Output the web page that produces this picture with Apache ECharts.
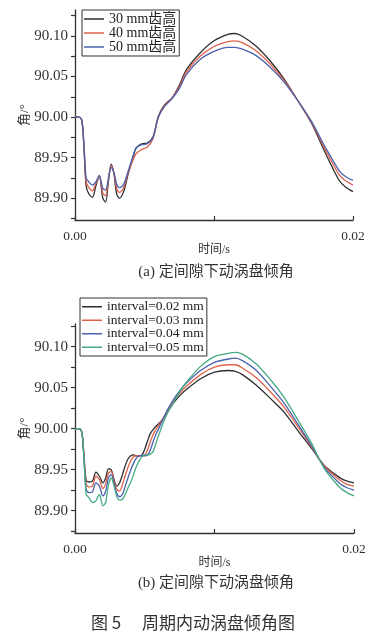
<!DOCTYPE html>
<html><head><meta charset="utf-8">
<script src="https://cdn.jsdelivr.net/npm/echarts@6/dist/echarts.min.js"></script>
<style>html,body{margin:0;padding:0;background:#fff}#c{width:390px;height:643px}</style>
</head><body><div id="c"></div>
<script>
// ---------- data ----------
const times1 = [0, 0.0003, 0.0005, 0.00065, 0.0008, 0.001, 0.00125, 0.0015, 0.00175, 0.002,
  0.0022, 0.0024, 0.0026, 0.0028, 0.003, 0.0032, 0.0035, 0.0038, 0.0041, 0.0044,
  0.0048, 0.0052, 0.0056, 0.006, 0.0064, 0.007, 0.0075, 0.008, 0.009, 0.01,
  0.011, 0.0115, 0.012, 0.013, 0.014, 0.015, 0.016, 0.017, 0.018, 0.019, 0.0195, 0.02];
const names1 = ['30 mm齿高', '40 mm齿高', '50 mm齿高'];
const h30 = [90.000, 90.000, 89.995, 89.960, 89.915, 89.905, 89.901, 89.915, 89.927, 89.900,
  89.895, 89.920, 89.942, 89.930, 89.905, 89.900, 89.908, 89.928, 89.946, 89.962,
  89.967, 89.968, 89.975, 90.001, 90.014, 90.024, 90.039, 90.058, 90.079, 90.094,
  90.102, 90.103, 90.100, 90.088, 90.070, 90.048, 90.021, 89.993, 89.956, 89.922, 89.913, 89.908];
const h40 = [90.000, 90.000, 89.995, 89.962, 89.920, 89.913, 89.909, 89.918, 89.927, 89.906,
  89.903, 89.922, 89.940, 89.931, 89.912, 89.907, 89.913, 89.930, 89.944, 89.955,
  89.960, 89.963, 89.973, 90.000, 90.013, 90.024, 90.037, 90.055, 90.075, 90.087,
  90.093, 90.094, 90.092, 90.082, 90.066, 90.046, 90.021, 89.994, 89.960, 89.929, 89.921, 89.916];
const h50 = [90.000, 90.000, 89.996, 89.965, 89.925, 89.920, 89.916, 89.920, 89.928, 89.912,
  89.910, 89.924, 89.938, 89.932, 89.917, 89.913, 89.917, 89.932, 89.948, 89.962,
  89.966, 89.967, 89.974, 90.000, 90.012, 90.023, 90.035, 90.052, 90.071, 90.081,
  90.086, 90.086, 90.084, 90.076, 90.062, 90.044, 90.021, 89.995, 89.963, 89.934, 89.926, 89.922];

const times2 = [0, 0.0003, 0.0005, 0.00065, 0.0008, 0.001, 0.00125, 0.0015, 0.00175, 0.002,
  0.0022, 0.0024, 0.0026, 0.0028, 0.003, 0.0032, 0.0034, 0.0036, 0.0038, 0.004,
  0.0042, 0.0044, 0.0046, 0.0048, 0.005, 0.0052, 0.0054, 0.0056, 0.0058, 0.006,
  0.0063, 0.0066, 0.007, 0.0075, 0.008, 0.009, 0.01, 0.011, 0.0115, 0.012,
  0.013, 0.014, 0.015, 0.016, 0.017, 0.0175, 0.018, 0.019, 0.0195, 0.02];
const names2 = ['interval=0.02 mm', 'interval=0.03 mm', 'interval=0.04 mm', 'interval=0.05 mm'];
const g02 = [90.000, 90.000, 89.995, 89.965, 89.937, 89.935, 89.936, 89.947, 89.942, 89.934,
  89.940, 89.951, 89.950, 89.938, 89.930, 89.934, 89.944, 89.955, 89.963, 89.967,
  89.968, 89.967, 89.967, 89.968, 89.975, 89.985, 89.994, 89.999, 90.003, 90.006,
  90.012, 90.020, 90.030, 90.040, 90.048, 90.061, 90.069, 90.071, 90.070, 90.066,
  90.053, 90.037, 90.020, 89.997, 89.975, 89.963, 89.953, 89.940, 89.936, 89.934];
const g03 = [90.000, 90.000, 89.995, 89.963, 89.932, 89.929, 89.930, 89.942, 89.938, 89.927,
  89.933, 89.946, 89.948, 89.936, 89.926, 89.924, 89.932, 89.943, 89.953, 89.961,
  89.966, 89.967, 89.967, 89.967, 89.968, 89.974, 89.984, 89.993, 89.999, 90.004,
  90.012, 90.021, 90.032, 90.043, 90.052, 90.066, 90.075, 90.078, 90.078, 90.074,
  90.062, 90.045, 90.026, 90.002, 89.977, 89.963, 89.952, 89.937, 89.932, 89.930];
const g04 = [90.000, 90.000, 89.995, 89.962, 89.926, 89.922, 89.923, 89.934, 89.930, 89.918,
  89.924, 89.940, 89.944, 89.933, 89.921, 89.917, 89.920, 89.930, 89.940, 89.950,
  89.958, 89.964, 89.967, 89.967, 89.967, 89.968, 89.974, 89.984, 89.993, 90.000,
  90.011, 90.022, 90.034, 90.046, 90.056, 90.071, 90.081, 90.085, 90.086, 90.083,
  90.071, 90.052, 90.031, 90.005, 89.978, 89.963, 89.950, 89.933, 89.928, 89.925];
const g05 = [90.000, 90.000, 89.995, 89.960, 89.920, 89.916, 89.910, 89.912, 89.920, 89.906,
  89.910, 89.932, 89.940, 89.930, 89.917, 89.913, 89.914, 89.920, 89.928, 89.935,
  89.944, 89.954, 89.961, 89.966, 89.968, 89.968, 89.969, 89.972, 89.982, 89.992,
  90.006, 90.018, 90.030, 90.045, 90.057, 90.076, 90.088, 90.092, 90.093, 90.091,
  90.079, 90.060, 90.038, 90.010, 89.981, 89.963, 89.948, 89.928, 89.922, 89.918];

const xTickValues = [0, 0.01, 0.02];
const xLabelValues = [0, 0.02];
const yTickValues = [89.875, 89.9, 89.925, 89.95, 89.975, 90, 90.025, 90.05, 90.075, 90.1, 90.125];
const yLabelValues = [89.9, 89.95, 90, 90.05, 90.1];

// ---------- chart ----------
const SERIF = '"Liberation Serif", "Noto Sans CJK SC", serif';
const colors1 = ['#2e2e2e', '#e0614c', '#4a62ad'];
const colors2 = ['#2e2e2e', '#e0614c', '#4a62ad', '#45ab84'];
const axisColor = '#333';

function pairs(t, v) { return t.map((x, i) => [x, v[i]]); }

function xAxis(gi) {
  return {
    type: 'value', gridIndex: gi, min: 0, max: 0.02,
    axisLine: { onZero: false, lineStyle: { color: axisColor, width: 1.3 } },
    axisTick: { inside: true, length: 4, customValues: xTickValues, lineStyle: { color: axisColor, width: 1.2 } },
    axisLabel: { customValues: xLabelValues, formatter: v => v.toFixed(2), fontFamily: SERIF, fontSize: 13.5, color: '#333', margin: 10 },
    splitLine: { show: false },
    name: '时间/s', nameLocation: 'middle', nameGap: 24, nameMoveOverlap: false,
    nameTextStyle: { fontFamily: SERIF, fontSize: 12, color: '#333' }
  };
}
function yAxis(gi, min, max) {
  return {
    type: 'value', gridIndex: gi, min: min, max: max,
    axisLine: { show: true, lineStyle: { color: axisColor, width: 1.3 } },
    axisTick: { show: true, inside: false, length: 4, customValues: yTickValues, lineStyle: { color: axisColor, width: 1.2 } },
    axisLabel: { customValues: yLabelValues, formatter: v => v.toFixed(2), fontFamily: SERIF, fontSize: 15, color: '#333', margin: 7 },
    splitLine: { show: false },
    name: '角/°', nameLocation: 'middle', nameRotate: 90, nameGap: 44, nameMoveOverlap: false,
    nameTextStyle: { fontFamily: SERIF, fontSize: 13, color: '#333' }
  };
}
function line(name, t, v, color, xi) {
  return {
    type: 'line', name: name, xAxisIndex: xi, yAxisIndex: xi,
    data: pairs(t, v), symbol: 'none', smooth: 0.3,
    lineStyle: { color: color, width: 1.3 }, itemStyle: { color: color }
  };
}
function legend(names, left, top, fs) {
  return {
    data: names, orient: 'vertical', left: left, top: top,
    icon: 'rect', itemWidth: 20, itemHeight: 1.5, itemGap: 0,
    padding: [2, 3, 2, 2], borderColor: '#333', borderWidth: 1, backgroundColor: '#fff',
    textStyle: { fontFamily: SERIF, fontSize: fs, color: '#222', lineHeight: 13.5, padding: [0, 0, 0, 0] }
  };
}

const chart = echarts.init(document.getElementById('c'), null, { renderer: 'canvas' });
chart.setOption({
  backgroundColor: '#fff',
  animation: false,
  grid: [
    { left: 75, top: 10, width: 278, height: 210 },
    { left: 75, top: 324, width: 279, height: 209 }
  ],
  xAxis: [xAxis(0), xAxis(1)],
  yAxis: [yAxis(0, 89.873, 90.132), yAxis(1, 89.8728, 90.1277)],
  legend: [legend(names1, 82, 10, 14), legend(names2, 80, 298, 13.5)],
  series: [
    line(names1[0], times1, h30, colors1[0], 0),
    line(names1[1], times1, h40, colors1[1], 0),
    line(names1[2], times1, h50, colors1[2], 0),
    line(names2[0], times2, g02, colors2[0], 1),
    line(names2[1], times2, g03, colors2[1], 1),
    line(names2[2], times2, g04, colors2[2], 1),
    line(names2[3], times2, g05, colors2[3], 1)
  ],
  graphic: [
    { type: 'text', x: 216, y: 272, style: { text: '(a) 定间隙下动涡盘倾角', fill: '#333', font: '15px ' + SERIF, align: 'center', verticalAlign: 'middle' } },
    { type: 'text', x: 216, y: 583, style: { text: '(b) 定间隙下动涡盘倾角', fill: '#333', font: '15px ' + SERIF, align: 'center', verticalAlign: 'middle' } },
    { type: 'text', x: 193, y: 623, style: { text: '图 5\u3000 周期内动涡盘倾角图', fill: '#333', font: '17px "Noto Sans CJK SC", sans-serif', align: 'center', verticalAlign: 'middle' } }
  ]
});
</script></body></html>
